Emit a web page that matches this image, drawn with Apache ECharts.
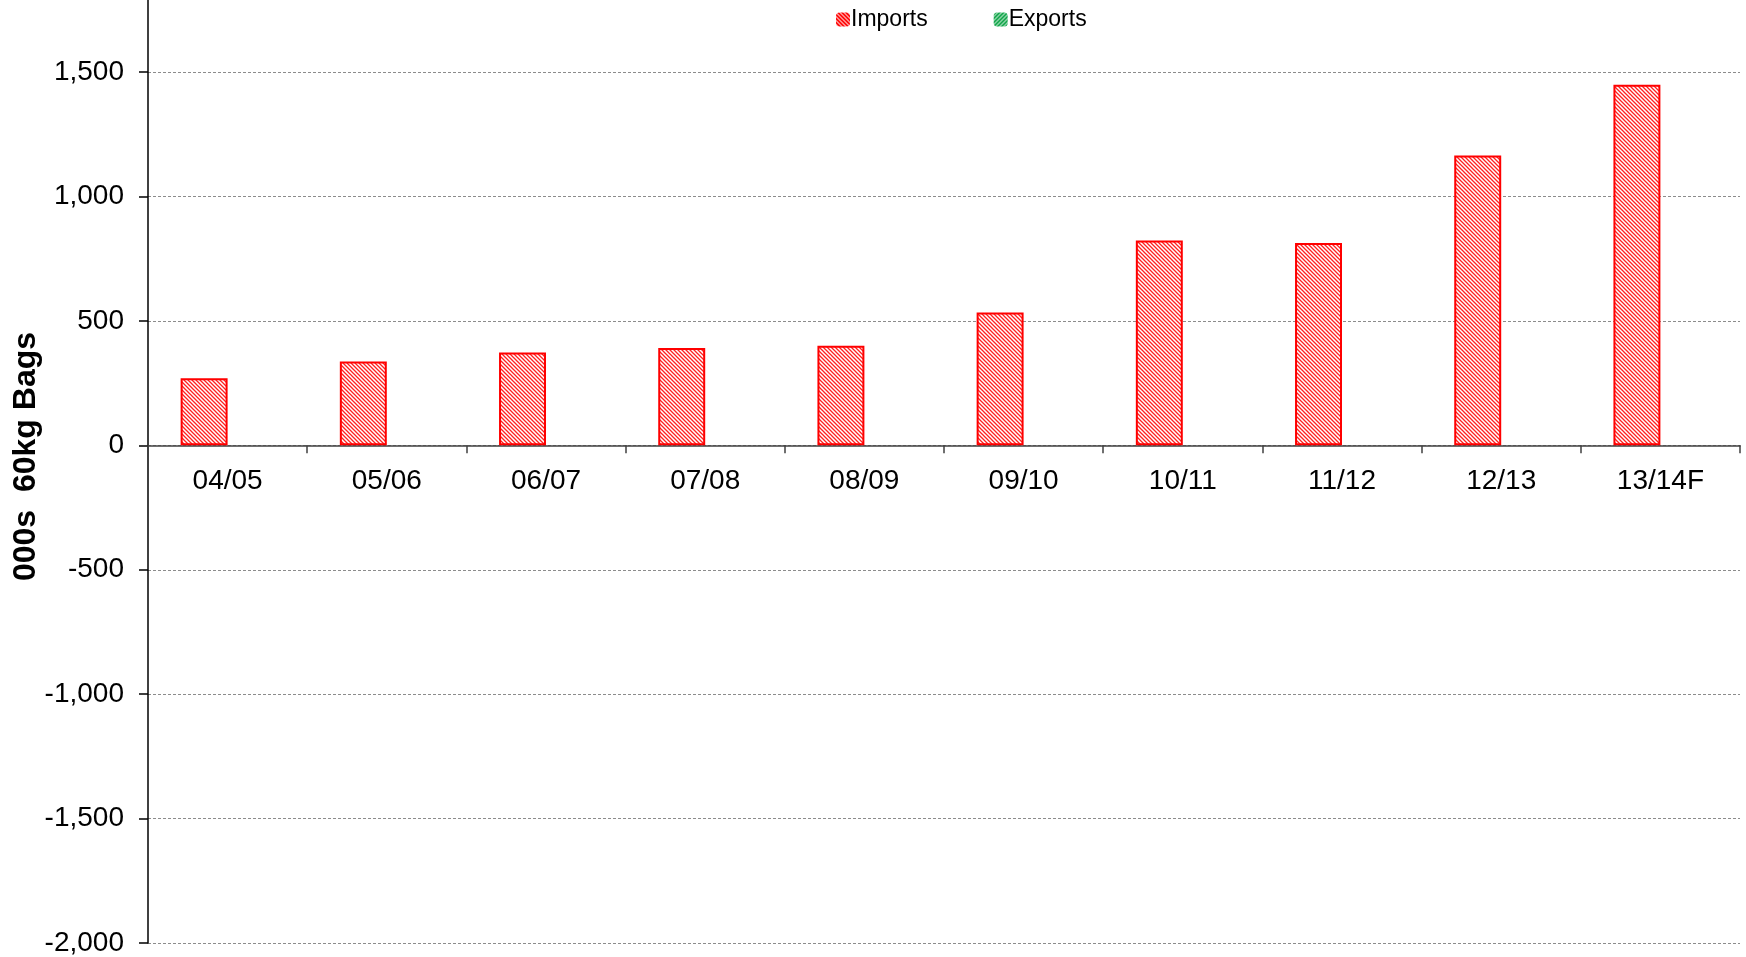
<!DOCTYPE html>
<html>
<head>
<meta charset="utf-8">
<script src="https://cdn.jsdelivr.net/npm/echarts@6/dist/echarts.min.js"></script>
<style>
  html, body { margin: 0; padding: 0; background: #fff; }
  #chart { width: 1746px; height: 957px; }
</style>
</head>
<body>
<div id="chart"></div>
<script>
const seasons = ['04/05', '05/06', '06/07', '07/08', '08/09', '09/10', '10/11', '11/12', '12/13', '13/14F']
const imports = [270, 337, 373, 391, 400, 534, 823, 813, 1165, 1449]
const exports = [0, 0, 0, 0, 0, 0, 0, 0, 0, 0]

const Y_MIN = -2000
const Y_MAX = 1790
const PLOT_TOP = 0
const PLOT_H = 943

// hatch fill, like the old spreadsheet patterns
function hatch(bg, fg, back, w) {
  const c = document.createElement('canvas')
  c.width = 4
  c.height = 4
  const ctx = c.getContext('2d')
  ctx.fillStyle = bg
  ctx.fillRect(0, 0, 4, 4)
  ctx.strokeStyle = fg
  ctx.lineWidth = w || 1.3
  ctx.beginPath()
  if (back) {
    ctx.moveTo(-1, -1); ctx.lineTo(5, 5)
    ctx.moveTo(3, -1); ctx.lineTo(5, 1)
    ctx.moveTo(-1, 3); ctx.lineTo(1, 5)
  } else {
    ctx.moveTo(-1, 5); ctx.lineTo(5, -1)
    ctx.moveTo(-1, 1); ctx.lineTo(1, -1)
    ctx.moveTo(3, 5); ctx.lineTo(5, 3)
  }
  ctx.stroke()
  return { image: c, repeat: 'repeat' }
}

function fmt(v) {
  const s = Math.abs(v).toString().replace(/\B(?=(\d{3})+(?!\d))/g, ',')
  return (v < 0 ? '-' : '') + s
}

// x axis sits on the zero line
const zeroY = PLOT_TOP + PLOT_H * Y_MAX / (Y_MAX - Y_MIN)
const xOffset = -(PLOT_TOP + PLOT_H - zeroY)

const chart = echarts.init(document.getElementById('chart'))
chart.setOption({
  animation: false,
  textStyle: { fontFamily: 'Liberation Sans, Arial, sans-serif' },
  legend: {
    left: 831,
    top: 3,
    itemWidth: 14,
    itemHeight: 14,
    itemGap: 66,
    textStyle: { fontSize: 23, color: '#000', padding: [0, 0, 0, -4] },
    data: [
      { name: 'Imports', itemStyle: { color: hatch('#ff1010', '#ffffff', true, 1), borderWidth: 0 } },
      { name: 'Exports', itemStyle: { color: hatch('#12a64a', '#ffffff', false, 1), borderWidth: 0 } }
    ]
  },
  grid: { left: 148, right: 6, top: PLOT_TOP, height: PLOT_H, outerBoundsMode: 'none' },
  xAxis: {
    type: 'category',
    data: seasons,
    offset: xOffset,
    axisLine: { onZero: false, lineStyle: { color: '#404040', width: 1.5 } },
    axisTick: { show: true, inside: false, length: 8, lineStyle: { color: '#404040', width: 1.5 } },
    axisLabel: { fontSize: 28, color: '#000', margin: 22 },
    splitLine: { show: false }
  },
  yAxis: {
    type: 'value',
    min: Y_MIN,
    max: Y_MAX,
    interval: 500,
    name: '000s  60kg Bags',
    nameLocation: 'middle',
    nameRotate: 90,
    nameGap: 106,
    nameMoveOverlap: false,
    nameTextStyle: { fontSize: 32, fontWeight: 'bold', color: '#000', padding: [0, 0, 0, 30] },
    axisLine: { show: true, lineStyle: { color: '#000', width: 1.5 } },
    axisTick: { show: true, length: 9, lineStyle: { color: '#000', width: 1.5 } },
    axisLabel: { fontSize: 28, color: '#000', margin: 24, showMaxLabel: false, formatter: fmt },
    splitLine: {
      show: true,
      showMaxLine: false,
      lineStyle: { color: '#8c8c8c', type: [3, 2], width: 1 }
    }
  },
  series: [
    {
      name: 'Imports',
      type: 'bar',
      data: imports,
      barGap: 0,
      barCategoryGap: '41%',
      itemStyle: { color: hatch('#ffffff', '#ff2020', true), borderColor: '#ff0000', borderWidth: 2 }
    },
    {
      name: 'Exports',
      type: 'bar',
      data: exports,
      itemStyle: { color: hatch('#12a64a', '#ffffff', false, 1), borderWidth: 0 }
    }
  ]
})
</script>
</body>
</html>
